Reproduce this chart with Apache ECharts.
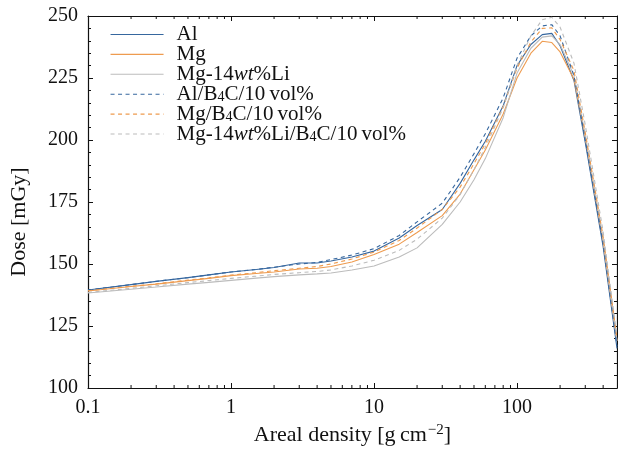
<!DOCTYPE html>
<html>
<head>
<meta charset="utf-8">
<script src="https://cdn.jsdelivr.net/npm/echarts@6/dist/echarts.min.js"></script>
<style>
  html, body { margin: 0; padding: 0; background: #fff; }
  #chart { width: 618px; height: 453px; }
</style>
</head>
<body>
<div id="chart"></div>
<script>
// areal density [g cm^-2]
const density = [0.1, 0.2, 0.3, 0.5, 0.7, 1, 1.5, 2, 3, 4, 5, 7, 10, 15, 20, 30, 40, 50, 60, 80, 100, 125, 150, 175, 200, 250, 300, 400, 500];

// dose [mGy]
const doseAl = [139.5, 141.7, 143, 144.5, 145.6, 146.8, 147.8, 148.6, 150.4, 150.4, 151.2, 152.8, 155.2, 160.5, 165.5, 172, 182.5, 192, 199.5, 213.8, 230, 238.5, 242.5, 243, 238, 224, 199, 157, 116];
const doseMg = [139.1, 140.9, 141.9, 143.3, 144.2, 145.3, 146.2, 146.8, 148, 148.3, 149, 150.8, 153.8, 158, 162.7, 169.5, 178.2, 188, 196, 210.5, 225, 235, 239.8, 239.3, 235.5, 224.5, 201, 159, 119];
const doseMgLi = [138.3, 139.8, 140.7, 141.9, 142.6, 143.4, 144.3, 144.9, 145.6, 146, 146.4, 147.6, 149.2, 152.8, 156.5, 166, 175, 184, 192.5, 209, 227, 237, 241.5, 242, 238.5, 226, 202, 160, 119];
const doseAlB4C = [139.5, 141.7, 143, 144.5, 145.6, 146.8, 147.8, 148.7, 150, 150.6, 151.8, 153.6, 156.2, 161.5, 167, 174.5, 185, 194.5, 202.5, 217, 233, 242, 246, 246.5, 242, 226, 200, 158, 117];
const doseMgB4C = [139.2, 141, 142, 143.5, 144.4, 145.5, 146.5, 147.3, 148.3, 149, 150, 152, 154.8, 159.5, 164.5, 172, 181, 190.5, 198.5, 213.5, 229, 239.5, 245, 245.2, 240.5, 228, 203, 161, 120];
const doseMgLiB4C = [138.5, 140.2, 141.2, 142.5, 143.3, 144.2, 145.1, 145.8, 146.5, 147, 147.6, 149.2, 151.5, 155.5, 160, 168.5, 178, 188, 197, 213, 230, 242, 248.5, 249.5, 245.5, 231, 206, 163, 121];

// minor tick positions on the log axis
const minorX = [0.2, 0.3, 0.4, 0.5, 0.6, 0.7, 0.8, 0.9, 2, 3, 4, 5, 6, 7, 8, 9, 20, 30, 40, 50, 60, 70, 80, 90, 200, 300, 400];

const names = ['Al', 'Mg', 'Mg-14wt%Li', 'Al/B4C/10 vol%', 'Mg/B4C/10 vol%', 'Mg-14wt%Li/B4C/10 vol%'];
const richNames = {
  'Al': 'Al',
  'Mg': 'Mg',
  'Mg-14wt%Li': 'Mg-14{it|wt}%Li',
  'Al/B4C/10 vol%': 'Al/B{sub|4}C/10\u2009vol%',
  'Mg/B4C/10 vol%': 'Mg/B{sub|4}C/10\u2009vol%',
  'Mg-14wt%Li/B4C/10 vol%': 'Mg-14{it|wt}%Li/B{sub|4}C/10\u2009vol%'
};

const BLUE = '#36679f';
const ORANGE = '#ee9b4f';
const GRAY = '#bcbcbc';
const FONT = 'Liberation Serif';
const INK = '#111';

const chart = echarts.init(document.getElementById('chart'));

const pairs = arr => density.map((d, i) => [d, arr[i]]);

const lineSeries = (name, data, color, dashed) => ({
  name: name,
  type: 'line',
  data: pairs(data),
  symbol: 'none',
  smooth: false,
  xAxisIndex: 0,
  yAxisIndex: 0,
  lineStyle: { width: 1.1, color: color, type: dashed ? [4, 3.5] : 'solid' },
  itemStyle: { color: color },
  z: dashed ? 3 : 2
});

const tickStyle = { color: INK, width: 1 };

const option = {
  animation: false,
  textStyle: { fontFamily: FONT },
  grid: { left: 88, right: 1, top: 16, bottom: 65, containLabel: false },
  legend: {
    data: names,
    orient: 'vertical',
    left: 105,
    top: 19,
    itemWidth: 53,
    itemHeight: 14,
    itemGap: -1.1,
    itemStyle: { opacity: 0 },
    lineStyle: { width: 1.1 },
    formatter: n => richNames[n],
    textStyle: {
      fontFamily: FONT,
      fontSize: 21,
      lineHeight: 16,
      color: INK,
      padding: [0, 0, 0, 8],
      rich: {
        it: { fontFamily: FONT, fontSize: 21, lineHeight: 16, fontStyle: 'italic', color: INK },
        sub: { fontFamily: FONT, fontSize: 14, lineHeight: 10, color: INK, padding: [6, 0, 0, 0] }
      }
    }
  },
  xAxis: [
    {
      type: 'log',
      logBase: 10,
      min: 0.1,
      max: 500,
      position: 'bottom',
      name: 'Areal density [g\u2009cm{sup|\u22122}]',
      nameLocation: 'middle',
      nameGap: 37,
      nameTextStyle: {
        fontFamily: FONT, fontSize: 22, lineHeight: 18, color: INK,
        rich: { sup: { fontFamily: FONT, fontSize: 15, lineHeight: 8, color: INK, padding: [0, 0, 9, 1] } }
      },
      axisLine: { lineStyle: { color: INK, width: 1.2 } },
      axisTick: { inside: true, length: 5, lineStyle: tickStyle },
      axisLabel: {
        fontFamily: FONT, fontSize: 20, color: INK, margin: 10,
        showMaxLabel: false,
        formatter: v => String(+Number(v).toPrecision(3))
      },
      splitLine: { show: false }
    },
    {
      type: 'log',
      logBase: 10,
      min: 0.1,
      max: 500,
      position: 'top',
      axisLine: { lineStyle: { color: INK, width: 1.2 } },
      axisTick: { inside: true, length: 5, lineStyle: tickStyle },
      axisLabel: { show: false },
      splitLine: { show: false }
    }
  ],
  yAxis: [
    {
      type: 'value',
      min: 100,
      max: 250,
      interval: 25,
      position: 'left',
      name: 'Dose [mGy]',
      nameLocation: 'middle',
      nameGap: 58,
      nameTextStyle: { fontFamily: FONT, fontSize: 22, color: INK, padding: [0, 40, 0, 0] },
      axisLine: { show: true, lineStyle: { color: INK, width: 1.2 } },
      axisTick: { inside: true, length: 5, lineStyle: tickStyle },
      minorTick: { show: true, splitNumber: 5, length: 3, lineStyle: tickStyle },
      axisLabel: { fontFamily: FONT, fontSize: 20, color: INK, margin: 10 },
      splitLine: { show: false }
    },
    {
      type: 'value',
      min: 100,
      max: 250,
      interval: 25,
      position: 'right',
      axisLine: { show: true, lineStyle: { color: INK, width: 1.2 } },
      axisTick: { inside: true, length: 5, lineStyle: tickStyle },
      minorTick: { show: true, splitNumber: 5, length: 3, lineStyle: tickStyle },
      axisLabel: { show: false },
      splitLine: { show: false }
    }
  ],
  series: [
    lineSeries(names[0], doseAl, BLUE, false),
    lineSeries(names[1], doseMg, ORANGE, false),
    lineSeries(names[2], doseMgLi, GRAY, false),
    lineSeries(names[3], doseAlB4C, BLUE, true),
    lineSeries(names[4], doseMgB4C, ORANGE, true),
    lineSeries(names[5], doseMgLiB4C, GRAY, true),
    {
      // minor ticks of the log axis, bottom and top
      name: 'minor',
      type: 'custom',
      silent: true,
      clip: false,
      xAxisIndex: 0,
      yAxisIndex: 0,
      data: minorX.map(v => [v]),
      encode: { x: 0 },
      renderItem: (params, api) => {
        const v = api.value(0);
        const b = api.coord([v, 100]);
        const t = api.coord([v, 250]);
        return {
          type: 'group',
          children: [
            { type: 'line', shape: { x1: b[0], y1: b[1], x2: b[0], y2: b[1] - 3 }, style: { stroke: INK, lineWidth: 1 } },
            { type: 'line', shape: { x1: t[0], y1: t[1], x2: t[0], y2: t[1] + 3 }, style: { stroke: INK, lineWidth: 1 } }
          ]
        };
      },
      z: 5
    }
  ]
};

chart.setOption(option);
</script>
</body>
</html>
